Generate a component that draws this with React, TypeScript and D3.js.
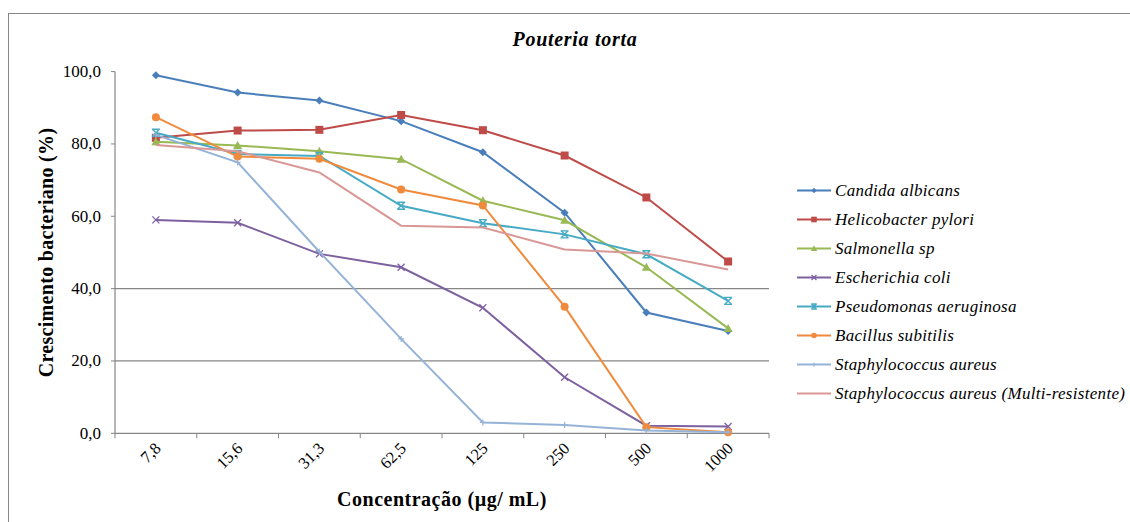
import React from "react";
import * as d3 from "d3";

const categories = ["7,8", "15,6", "31,3", "62,5", "125", "250", "500", "1000"];
const yTicks = [0, 20, 40, 60, 80, 100];
const gridValues = [20, 40];

const seriesNames = [
  "Candida albicans",
  "Helicobacter pylori",
  "Salmonella sp",
  "Escherichia coli",
  "Pseudomonas aeruginosa",
  "Bacillus subitilis",
  "Staphylococcus aureus",
  "Staphylococcus aureus (Multi-resistente)",
];
const candida = [99.0, 94.2, 92.0, 86.3, 77.7, 61.0, 33.4, 28.3];
const helicobacter = [81.7, 83.7, 83.9, 88.0, 83.8, 76.8, 65.2, 47.5];
const salmonella = [80.6, 79.6, 78.0, 75.8, 64.3, 58.9, 45.9, 29.0];
const ecoli = [59.0, 58.2, 49.6, 45.9, 34.7, 15.5, 2.1, 1.9];
const pseudomonas = [83.1, 77.2, 76.7, 62.9, 58.1, 55.0, 49.5, 36.6];
const bacillus = [87.4, 76.5, 75.9, 67.4, 63.0, 35.0, 1.7, 0.3];
const staph = [82.5, 74.9, 50.2, 26.1, 3.0, 2.3, 0.8, 0.3];
const staphMR = [79.7, 78.0, 72.1, 57.4, 56.9, 50.8, 49.7, 45.3];

const seriesValues = [candida, helicobacter, salmonella, ecoli, pseudomonas, bacillus, staph, staphMR];
const colors = ["#4A7EBB", "#BE4B48", "#98B954", "#7D60A0", "#46AAC5", "#F08A3C", "#95B3D7", "#D99795"];
const markers = ["diamond", "square", "triangle", "x", "star", "circle", "plus", "none"];

const FONT = "Liberation Serif, Tinos, Times, DejaVu Serif";

function Marker({ type, x, y, color, s = 1 }: { type: string; x: number; y: number; color: string; s?: number }) {
  switch (type) {
    case "diamond":
      return <path d={`M${x},${y - 4 * s}L${x + 4 * s},${y}L${x},${y + 4 * s}L${x - 4 * s},${y}Z`} fill={color} />;
    case "square":
      return <rect x={x - 4 * s} y={y - 4 * s} width={8 * s} height={8 * s} fill={color} />;
    case "triangle":
      return <path d={`M${x},${y - 4.5 * s}L${x + 4.5 * s},${y + 3.5 * s}L${x - 4.5 * s},${y + 3.5 * s}Z`} fill={color} />;
    case "x":
      return (
        <path d={`M${x - 3.5 * s},${y - 3.5 * s}L${x + 3.5 * s},${y + 3.5 * s}M${x - 3.5 * s},${y + 3.5 * s}L${x + 3.5 * s},${y - 3.5 * s}`} stroke={color} strokeWidth={1.3} />
      );
    case "star":
      return (
        <path
          d={`M${x - 3.5 * s},${y - 3.5 * s}L${x + 3.5 * s},${y + 3.5 * s}M${x - 3.5 * s},${y + 3.5 * s}L${x + 3.5 * s},${y - 3.5 * s}M${x - 4 * s},${y - 3.5 * s}L${x + 4 * s},${y - 3.5 * s}M${x - 4 * s},${y + 3.5 * s}L${x + 4 * s},${y + 3.5 * s}`}
          stroke={color}
          strokeWidth={1.4}
        />
      );
    case "circle":
      return <circle cx={x} cy={y} r={4 * s} fill={color} />;
    case "plus":
      return <path d={`M${x - 3 * s},${y}L${x + 3 * s},${y}M${x},${y - 3 * s}L${x},${y + 3 * s}`} stroke={color} strokeWidth={1.2} />;
    default:
      return null;
  }
}

export default function App() {
  const W = 1130;
  const H = 522;
  const left = 115;
  const right = 769;
  const top = 71.6;
  const bottom = 433.3;

  const x = d3.scaleBand<string>().domain(categories).range([left, right]);
  const y = d3.scaleLinear().domain([0, 100]).range([bottom, top]);
  const cx = (c: string) => (x(c) as number) + x.bandwidth() / 2;

  const line = d3
    .line<number>()
    .x((_, i) => cx(categories[i]))
    .y((d) => y(d));

  const boundaries = categories.map((c) => x(c) as number).concat([right]);

  return (
    <svg width={W} height={H} style={{ position: "absolute", left: 0, top: 0 }}>
      <rect x={0} y={0} width={W} height={H} fill="#fff" />
      <rect x={8.5} y={13.5} width={W} height={H} fill="none" stroke="#868686" strokeWidth={1} />
      <g fontFamily={FONT}>
        <text x={575} y={46} textAnchor="middle" fontSize={20} fontWeight="bold" fontStyle="italic" letterSpacing={0.7} fill="#000">
          Pouteria torta
        </text>

        {gridValues.map((v) => (
          <line key={v} x1={left} x2={right} y1={y(v)} y2={y(v)} stroke="#868686" strokeWidth={1.2} />
        ))}

        <line x1={left} x2={left} y1={top} y2={bottom} stroke="#868686" strokeWidth={1.2} />
        <line x1={left} x2={right} y1={bottom} y2={bottom} stroke="#868686" strokeWidth={1.2} />
        {yTicks.map((v) => (
          <g key={v}>
            <line x1={left - 4} x2={left} y1={y(v)} y2={y(v)} stroke="#868686" />
            <text x={101} y={y(v) + 5.5} textAnchor="end" fontSize={17} fill="#000">
              {v.toFixed(1).replace(".", ",")}
            </text>
          </g>
        ))}
        {boundaries.map((b, i) => (
          <line key={i} x1={b} x2={b} y1={bottom} y2={bottom + 5} stroke="#868686" />
        ))}
        {categories.map((c) => (
          <text
            key={c}
            transform={`translate(${cx(c) + 6},${bottom + 16}) rotate(-45)`}
            textAnchor="end"
            fontSize={16.5}
            fill="#000"
          >
            {c}
          </text>
        ))}

        <text x={442} y={506} textAnchor="middle" fontSize={20} fontWeight="bold" letterSpacing={0.5} fill="#000">
          Concentração (µg/ mL)
        </text>
        <text transform={`translate(53,${(top + bottom) / 2}) rotate(-90)`} textAnchor="middle" fontSize={20} fontWeight="bold" letterSpacing={0.3} fill="#000">
          Crescimento bacteriano (%)
        </text>

        {seriesValues.map((vals, si) => (
          <g key={si}>
            <path d={line(vals) || ""} fill="none" stroke={colors[si]} strokeWidth={2} />
            {vals.map((v, i) => (
              <Marker key={i} type={markers[si]} x={cx(categories[i])} y={y(v)} color={colors[si]} />
            ))}
          </g>
        ))}

        {seriesNames.map((n, i) => {
          const ly = 190.5 + i * 29;
          return (
            <g key={n}>
              <line x1={797} x2={831} y1={ly} y2={ly} stroke={colors[i]} strokeWidth={2} />
              <Marker type={markers[i]} x={814} y={ly} color={colors[i]} s={0.7} />
              <text x={835} y={ly + 5.5} fontSize={17} fontStyle="italic" letterSpacing={0.3} fill="#000">
                {n}
              </text>
            </g>
          );
        })}
      </g>
    </svg>
  );
}
